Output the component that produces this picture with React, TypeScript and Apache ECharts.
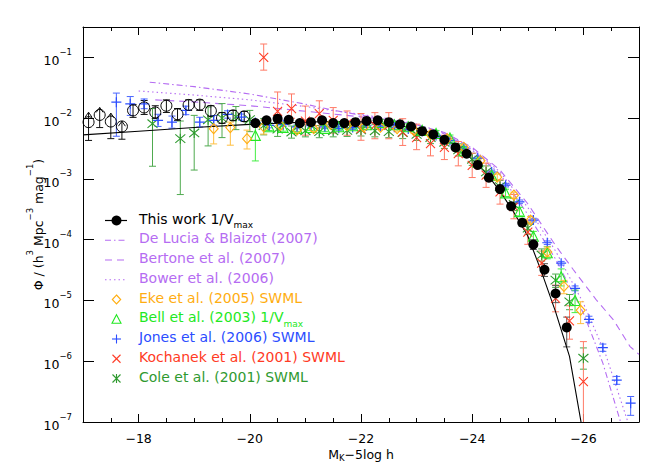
import React, { useEffect, useRef } from "react";
import * as echarts from "echarts";

const FONT = "DejaVu Sans";
const PURPLE = "#b56cf2";
const ORANGE = "#ffad10";
const GREEN = "#22e822";
const BLUE = "#2b4dff";
const RED = "#ff3a24";
const DKGREEN = "#2f9a2f";

// ---- tick labels ----
const X_MAJOR = [-26, -24, -22, -20, -18];
const X_MINOR = [-26.5, -25.5, -25, -24.5, -23.5, -23, -22.5, -21.5, -21, -20.5, -19.5, -19, -18.5, -17.5];

// ---- Schechter fit (solid black curve) ----
const FIT_M = [-17.0, -18.0, -19.0, -20.0, -21.0, -21.5, -22.0, -22.5, -23.0, -23.25, -23.5, -23.75, -24.0, -24.25, -24.5, -24.75, -25.0, -25.25, -25.5, -25.75, -26.0];
const FIT_PHI = [0.0053, 0.0061, 0.007, 0.0079, 0.0086, 0.0088, 0.0087, 0.008, 0.0068, 0.0058, 0.0046, 0.0033, 0.0021, 0.00125, 6.3e-4, 2.8e-4, 1.15e-4, 2.9e-5, 6.5e-6, 1.2e-6, 6.0e-8];

// ---- models ----
const DELUCIA_M = [-18.2, -19.0, -20.0, -21.0, -21.5, -22.0, -22.5, -23.0, -23.5, -24.0, -24.5, -25.0, -25.5, -26.0, -26.35, -26.7];
const DELUCIA_PHI = [0.039, 0.033, 0.025, 0.017, 0.0135, 0.0112, 0.0095, 0.0078, 0.0055, 0.003, 0.0012, 2.6e-4, 4.8e-5, 6.2e-6, 9.3e-7, 8.0e-8];
const BERTONE_M = [-18.3, -19.0, -20.0, -21.0, -22.0, -22.5, -23.0, -23.5, -24.0, -24.5, -25.0, -25.5, -25.82, -26.24, -26.54, -26.84, -27.0];
const BERTONE_PHI = [0.02, 0.0185, 0.016, 0.013, 0.0105, 0.0094, 0.0078, 0.0058, 0.0033, 0.0014, 3.9e-4, 8.0e-5, 3.2e-5, 1.0e-5, 4.8e-6, 1.74e-6, 1.3e-6];
const BOWER_M = [-18.0, -19.0, -20.0, -21.0, -22.0, -22.5, -23.0, -23.5, -24.0, -24.5, -25.0, -25.5, -26.0, -26.4, -26.8];
const BOWER_PHI = [0.028, 0.024, 0.02, 0.0155, 0.0115, 0.0098, 0.008, 0.0057, 0.0032, 0.0013, 3.4e-4, 6.5e-5, 9.0e-6, 1.3e-6, 1.0e-7];

// ---- This work 1/Vmax (filled) ----
const TW_M = [-20.1, -20.3, -20.5, -20.7, -20.9, -21.1, -21.3, -21.5, -21.7, -21.9, -22.1, -22.3, -22.5, -22.7, -22.9, -23.1, -23.3, -23.5, -23.7, -23.9, -24.1, -24.3, -24.5, -24.7, -24.9, -25.1, -25.3, -25.5, -25.7];
const TW_PHI = [0.0083, 0.0092, 0.0098, 0.0094, 0.0083, 0.0086, 0.0092, 0.0083, 0.0083, 0.0086, 0.009, 0.0092, 0.0086, 0.0079, 0.0073, 0.0061, 0.0054, 0.0044, 0.0033, 0.0026, 0.0017, 0.00105, 6.8e-4, 3.55e-4, 1.9e-4, 8.3e-5, 3.2e-5, 1.3e-5, 3.6e-6];
const TW_DOWN = [0.03, 0.03, 0.03, 0.03, 0.03, 0.03, 0.03, 0.03, 0.03, 0.03, 0.03, 0.03, 0.03, 0.03, 0.03, 0.03, 0.03, 0.03, 0.03, 0.03, 0.03, 0.03, 0.04, 0.05, 0.06, 0.08, 0.11, 0.15, 0.32];
const TW_UP = [0.03, 0.03, 0.03, 0.03, 0.03, 0.03, 0.03, 0.03, 0.03, 0.03, 0.03, 0.03, 0.03, 0.03, 0.03, 0.03, 0.03, 0.03, 0.03, 0.03, 0.03, 0.03, 0.04, 0.05, 0.06, 0.08, 0.1, 0.13, 0.17];

// ---- This work, faint end (open circles) ----
const TWO_M = [-17.1, -17.3, -17.5, -17.7, -17.9, -18.1, -18.3, -18.5, -18.7, -18.9, -19.1, -19.3, -19.5, -19.7, -19.9];
const TWO_PHI = [0.0086, 0.0113, 0.0088, 0.0073, 0.0134, 0.015, 0.0124, 0.016, 0.0116, 0.0165, 0.0167, 0.0132, 0.0101, 0.0111, 0.0107];
const TWO_LO = [0.0043, 0.007, 0.0046, 0.0045, 0.0103, 0.0115, 0.0099, 0.0124, 0.0092, 0.0134, 0.0134, 0.0106, 0.0082, 0.0092, 0.0088];
const TWO_HI = [0.0125, 0.015, 0.0121, 0.0089, 0.0168, 0.0195, 0.016, 0.02, 0.0144, 0.02, 0.02, 0.016, 0.0124, 0.0134, 0.0129];
const TWO_ARROW = [1, 1, 1, 1, 0, 0, 0, 0, 0, 0, 0, 0, 0, 0, 0];

// ---- Eke et al. (2005) SWML ----
const EKE_M = [-19.35, -19.65, -19.95, -20.25, -20.55, -20.85, -21.15, -21.45, -21.75, -22.05, -22.35, -22.65, -22.95, -23.25, -23.55, -23.85, -24.15, -24.45, -24.75, -25.05, -25.35, -25.65, -25.95];
const EKE_PHI = [0.0067, 0.007, 0.0046, 0.0072, 0.0076, 0.0064, 0.0067, 0.0079, 0.0075, 0.0071, 0.0071, 0.0067, 0.0062, 0.0054, 0.0046, 0.0033, 0.002, 0.00107, 5.4e-4, 2.1e-4, 6.3e-5, 1.7e-5, 6.9e-6];
const EKE_DOWN = [0.25, 0.29, 0.17, 0.12, 0.06, 0.05, 0.05, 0.04, 0.04, 0.04, 0.04, 0.04, 0.04, 0.04, 0.04, 0.04, 0.04, 0.05, 0.05, 0.06, 0.08, 0.12, 0.22];
const EKE_UP = [0.14, 0.09, 0.14, 0.11, 0.06, 0.05, 0.05, 0.04, 0.04, 0.04, 0.04, 0.04, 0.04, 0.04, 0.04, 0.04, 0.04, 0.05, 0.05, 0.06, 0.08, 0.1, 0.14];

// ---- Bell et al. (2003) 1/Vmax ----
const BELL_M = [-20.1, -20.35, -20.6, -20.85, -21.1, -21.35, -21.6, -21.85, -22.1, -22.35, -22.6, -22.85, -23.1, -23.35, -23.6, -23.85, -24.1, -24.35, -24.6, -24.85, -25.1, -25.35, -25.6, -25.85];
const BELL_PHI = [0.0052, 0.0072, 0.007, 0.0068, 0.007, 0.0068, 0.0072, 0.0075, 0.0078, 0.0085, 0.0078, 0.0072, 0.0063, 0.0056, 0.0047, 0.0029, 0.0019, 0.00115, 5.9e-4, 2.9e-4, 1.14e-4, 6.1e-5, 2.45e-5, 1.0e-5];
const BELL_DOWN = [0.42, 0.06, 0.06, 0.05, 0.05, 0.05, 0.05, 0.05, 0.05, 0.05, 0.05, 0.05, 0.05, 0.05, 0.05, 0.05, 0.05, 0.05, 0.06, 0.07, 0.08, 0.1, 0.15, 0.2];
const BELL_UP = [0.2, 0.06, 0.06, 0.05, 0.05, 0.05, 0.05, 0.05, 0.05, 0.05, 0.05, 0.05, 0.05, 0.05, 0.05, 0.05, 0.05, 0.05, 0.06, 0.07, 0.08, 0.1, 0.13, 0.17];

// ---- Jones et al. (2006) SWML ----
const JONES_M = [-17.6, -17.85, -18.1, -18.35, -18.6, -18.85, -19.1, -19.35, -19.6, -19.85, -20.1, -20.35, -20.6, -20.85, -21.1, -21.35, -21.6, -21.85, -22.1, -22.35, -22.6, -22.85, -23.1, -23.35, -23.6, -23.85, -24.1, -24.35, -24.6, -24.85, -25.1, -25.35, -25.6, -25.85, -26.1, -26.35, -26.6, -26.85];
const JONES_PHI = [0.0183, 0.0172, 0.0172, 0.0092, 0.0086, 0.0134, 0.0086, 0.0092, 0.0115, 0.0104, 0.0085, 0.0076, 0.0078, 0.0072, 0.0075, 0.0072, 0.0068, 0.007, 0.0075, 0.0074, 0.0071, 0.0066, 0.0061, 0.0052, 0.0043, 0.0032, 0.0022, 0.0013, 7.9e-4, 4.2e-4, 2.1e-4, 8.9e-5, 4.1e-5, 1.58e-5, 4.9e-6, 1.67e-6, 4.9e-7, 2.04e-7];
const JONES_DOWN = [0.56, 0.19, 0.08, 0.1, 0.1, 0.07, 0.08, 0.08, 0.06, 0.05, 0.04, 0.04, 0.03, 0.03, 0.03, 0.03, 0.03, 0.03, 0.03, 0.03, 0.03, 0.03, 0.03, 0.03, 0.03, 0.03, 0.03, 0.03, 0.03, 0.03, 0.03, 0.03, 0.03, 0.04, 0.05, 0.06, 0.07, 0.2];
const JONES_UP = [0.15, 0.12, 0.08, 0.1, 0.1, 0.07, 0.08, 0.08, 0.06, 0.05, 0.04, 0.04, 0.03, 0.03, 0.03, 0.03, 0.03, 0.03, 0.03, 0.03, 0.03, 0.03, 0.03, 0.03, 0.03, 0.03, 0.03, 0.03, 0.03, 0.03, 0.03, 0.03, 0.03, 0.04, 0.05, 0.06, 0.06, 0.11];

// ---- Kochanek et al. (2001) SWML ----
const KOCH_M = [-20.25, -20.5, -20.75, -21.0, -21.25, -21.5, -21.75, -22.0, -22.25, -22.5, -22.75, -23.0, -23.25, -23.5, -23.75, -24.0, -24.25, -24.5, -24.75, -25.0, -25.25, -25.5, -25.75, -26.0];
const KOCH_PHI = [0.1, 0.0129, 0.0144, 0.0089, 0.0119, 0.0092, 0.0081, 0.0067, 0.0076, 0.0076, 0.0059, 0.0048, 0.0038, 0.0033, 0.0026, 0.00167, 0.00115, 6.1e-4, 3.5e-4, 1.33e-4, 4.1e-5, 1.08e-5, 4.6e-6, 4.6e-7];
const KOCH_DOWN = [0.21, 0.18, 0.16, 0.23, 0.24, 0.21, 0.19, 0.19, 0.22, 0.22, 0.22, 0.2, 0.2, 0.2, 0.2, 0.2, 0.2, 0.2, 0.2, 0.2, 0.2, 0.22, 0.3, 1.0];
const KOCH_UP = [0.22, 0.32, 0.24, 0.25, 0.21, 0.21, 0.21, 0.25, 0.21, 0.21, 0.22, 0.22, 0.2, 0.2, 0.2, 0.2, 0.2, 0.2, 0.2, 0.2, 0.2, 0.22, 0.25, 0.66];

// ---- Cole et al. (2001) SWML ----
const COLE_M = [-18.25, -18.75, -19.0, -19.25, -19.5, -19.75, -20.0, -20.25, -20.5, -20.75, -21.0, -21.25, -21.5, -21.75, -22.0, -22.25, -22.5, -22.75, -23.0, -23.25, -23.5, -23.75, -24.0, -24.25, -24.5, -24.75, -25.0, -25.25, -25.5, -25.75, -26.0];
const COLE_PHI = [0.0081, 0.0046, 0.0057, 0.0094, 0.01, 0.0105, 0.0095, 0.0075, 0.0066, 0.0059, 0.0062, 0.006, 0.0062, 0.0063, 0.0064, 0.0062, 0.006, 0.0058, 0.0054, 0.0048, 0.004, 0.003, 0.0021, 0.0013, 7.5e-4, 3.8e-4, 1.55e-4, 5.6e-5, 2.16e-5, 9.5e-6, 1.12e-6];
const COLE_DOWN = [0.7, 0.92, 0.61, 0.43, 0.32, 0.21, 0.2, 0.15, 0.12, 0.1, 0.1, 0.1, 0.1, 0.1, 0.1, 0.1, 0.1, 0.1, 0.1, 0.1, 0.1, 0.1, 0.1, 0.1, 0.1, 0.1, 0.1, 0.1, 0.12, 0.13, 0.18];
const COLE_UP = [0.25, 0.29, 0.29, 0.21, 0.24, 0.17, 0.15, 0.12, 0.1, 0.1, 0.1, 0.1, 0.1, 0.1, 0.1, 0.1, 0.1, 0.1, 0.1, 0.1, 0.1, 0.1, 0.1, 0.1, 0.1, 0.1, 0.1, 0.1, 0.1, 0.12, 0.17];

// ---- legend ----
const LEGEND_TEXT = [
  "{b|This work 1/V}{s|max}",
  "{b|De Lucia & Blaizot (2007)}",
  "{b|Bertone et al. (2007)}",
  "{b|Bower et al. (2006)}",
  "{b|Eke et al. (2005) SWML}",
  "{b|Bell et al. (2003) 1/V}{s|max}",
  "{b|Jones et al. (2006) SWML}",
  "{b|Kochanek et al. (2001) SWML}",
  "{b|Cole et al. (2001) SWML}",
];
const LEGEND_COLOR = ["#000", PURPLE, PURPLE, PURPLE, ORANGE, GREEN, BLUE, RED, DKGREEN];
const LEGEND_ICON = ["lineCircle", "dashdot", "dashed", "dotted", "diamond", "triangle", "plus", "cross", "asterisk"];

const DASH_DASHDOT = [6, 3, 1.5, 3];
const DASH_DASHED = [7, 5];
const DASH_DOTTED = [1.5, 3];

const SYM_PLUS = "path://M5,0L5,10M0,5L10,5";
const SYM_CROSS = "path://M0,0L10,10M10,0L0,10";
const SYM_AST = "path://M5,0L5,10M0.8,0.8L9.2,9.2M9.2,0.8L0.8,9.2";

function pairs(xs: number[], ys: number[]) {
  return xs.map((x, i) => [x, ys[i]]);
}

function errSeries(xs: number[], lo: number[], hi: number[], color: string, arrows?: number[]) {
  const data = xs.map((x, i) => [x, lo[i], hi[i], arrows ? arrows[i] : 0]);
  return {
    type: "custom",
    data,
    encode: { x: 0, y: [1, 2] },
    clip: true,
    z: 2,
    silent: true,
    renderItem: (_p: any, api: any) => {
      const x = api.value(0);
      const a = api.coord([x, api.value(1)]);
      const b = api.coord([x, api.value(2)]);
      const w = 3.5;
      const st = { stroke: color, lineWidth: 1, fill: "none" };
      const ch: any[] = [
        { type: "line", shape: { x1: a[0], y1: a[1], x2: b[0], y2: b[1] }, style: st },
        { type: "line", shape: { x1: a[0] - w, y1: a[1], x2: a[0] + w, y2: a[1] }, style: st },
      ];
      if (api.value(3)) {
        ch.push({ type: "polyline", shape: { points: [[b[0] - 3.5, b[1] + 5], [b[0], b[1]], [b[0] + 3.5, b[1] + 5]] }, style: st });
      } else {
        ch.push({ type: "line", shape: { x1: b[0] - w, y1: b[1], x2: b[0] + w, y2: b[1] }, style: st });
      }
      return { type: "group", children: ch };
    },
  };
}

function dexLo(phi: number[], d: number[]) {
  return phi.map((p, i) => p / Math.pow(10, d[i]));
}
function dexHi(phi: number[], d: number[]) {
  return phi.map((p, i) => p * Math.pow(10, d[i]));
}

function scatter(xs: number[], ys: number[], symbol: string, size: any, fill: string, stroke: string, bw: number, z = 3) {
  return {
    type: "scatter",
    data: pairs(xs, ys),
    symbol,
    symbolSize: size,
    clip: true,
    z,
    silent: true,
    itemStyle: { color: fill, borderColor: stroke, borderWidth: bw, opacity: 1 },
  };
}

function modelLine(xs: number[], ys: number[], dash: number[]) {
  return {
    type: "line",
    data: pairs(xs, ys),
    showSymbol: false,
    symbol: "none",
    clip: true,
    z: 1,
    silent: true,
    lineStyle: { color: PURPLE, width: 1.1, type: dash },
  };
}

function legendGraphics() {
  const els: any[] = [];
  const x1 = 105, x2 = 127, cx = 116.5, tx = 139, y0 = 220.5, dy = 19.75;
  LEGEND_TEXT.forEach((t, i) => {
    const cy = y0 + dy * i;
    const c = LEGEND_COLOR[i];
    const st = { stroke: c, lineWidth: 1.1, fill: "none" };
    const kind = LEGEND_ICON[i];
    if (kind === "lineCircle") {
      els.push({ type: "line", shape: { x1, y1: cy, x2, y2: cy }, style: { stroke: c, lineWidth: 1.2 } });
      els.push({ type: "circle", shape: { cx, cy, r: 5 }, style: { fill: c } });
    } else if (kind === "dashdot" || kind === "dashed" || kind === "dotted") {
      const dash = kind === "dashdot" ? DASH_DASHDOT : kind === "dashed" ? DASH_DASHED : DASH_DOTTED;
      els.push({ type: "line", shape: { x1, y1: cy, x2, y2: cy }, style: { stroke: c, lineWidth: 1.1, lineDash: dash } });
    } else if (kind === "diamond") {
      els.push({ type: "polygon", shape: { points: [[cx, cy - 4.5], [cx + 4.2, cy], [cx, cy + 4.5], [cx - 4.2, cy]] }, style: st });
    } else if (kind === "triangle") {
      els.push({ type: "polygon", shape: { points: [[cx, cy - 4.5], [cx + 4.5, cy + 4], [cx - 4.5, cy + 4]] }, style: st });
    } else if (kind === "plus") {
      els.push({ type: "line", shape: { x1: cx - 4.5, y1: cy, x2: cx + 4.5, y2: cy }, style: st });
      els.push({ type: "line", shape: { x1: cx, y1: cy - 4.5, x2: cx, y2: cy + 4.5 }, style: st });
    } else if (kind === "cross") {
      els.push({ type: "line", shape: { x1: cx - 4, y1: cy - 4, x2: cx + 4, y2: cy + 4 }, style: st });
      els.push({ type: "line", shape: { x1: cx - 4, y1: cy + 4, x2: cx + 4, y2: cy - 4 }, style: st });
    } else if (kind === "asterisk") {
      els.push({ type: "line", shape: { x1: cx, y1: cy - 4.5, x2: cx, y2: cy + 4.5 }, style: st });
      els.push({ type: "line", shape: { x1: cx - 4, y1: cy - 4, x2: cx + 4, y2: cy + 4 }, style: st });
      els.push({ type: "line", shape: { x1: cx - 4, y1: cy + 4, x2: cx + 4, y2: cy - 4 }, style: st });
    }
    els.push({
      type: "text",
      x: tx,
      y: cy,
      style: {
        text: t,
        align: "left",
        verticalAlign: "middle",
        fill: c,
        rich: {
          b: { fontFamily: FONT, fontSize: 14, fill: c, lineHeight: 18, verticalAlign: "top" },
          s: { fontFamily: FONT, fontSize: 9, fill: c, lineHeight: 6, verticalAlign: "bottom" },
        },
      },
    });
  });
  return { type: "group", z: 100, children: els };
}

function buildOption() {
  const black = { color: "#000", width: 1 };
  const xBase = {
    type: "value",
    min: -27,
    max: -17,
    inverse: true,
    splitLine: { show: false },
    axisLine: { show: true, onZero: false, lineStyle: black },
  };
  const yBase = {
    type: "log",
    logBase: 10,
    min: 1e-7,
    max: Math.pow(10, -0.5),
    splitLine: { show: false },
    axisLine: { show: true, onZero: false, lineStyle: black },
    axisTick: { show: true, inside: true, length: 11, lineStyle: black },
  };
  const supRich = {
    b: { fontFamily: FONT, fontSize: 12.5, color: "#000", lineHeight: 20, verticalAlign: "bottom" },
    p: { fontFamily: FONT, fontSize: 8.5, color: "#000", lineHeight: 8, verticalAlign: "top" },
  };
  return {
    animation: false,
    backgroundColor: "#fff",
    grid: { left: 83, right: 25, top: 27, bottom: 53, containLabel: false },
    xAxis: [
      {
        ...xBase,
        position: "bottom",
        axisTick: { show: true, inside: true, length: 8, lineStyle: black, customValues: X_MAJOR },
        axisLabel: {
          customValues: X_MAJOR,
          margin: 9,
          color: "#000",
          fontFamily: FONT,
          fontSize: 12.5,
          lineHeight: 14,
          formatter: (v: number) => "\u2212" + Math.abs(v),
        },
        name: "{b|M}{s|K}{b|\u22125log h}",
        nameLocation: "middle",
        nameGap: 26,
        nameMoveOverlap: false,
        nameTextStyle: {
          rich: {
            b: { fontFamily: FONT, fontSize: 12.5, color: "#000", lineHeight: 14, verticalAlign: "top" },
            s: { fontFamily: FONT, fontSize: 8.5, color: "#000", lineHeight: 5, verticalAlign: "bottom" },
          },
        },
      },
      {
        ...xBase,
        position: "bottom",
        axisLine: { show: false },
        axisTick: { show: true, inside: true, length: 4, lineStyle: black, customValues: X_MINOR },
        axisLabel: { show: false, customValues: X_MINOR },
      },
      {
        ...xBase,
        position: "top",
        axisTick: { show: true, inside: true, length: 8, lineStyle: black, customValues: X_MAJOR },
        axisLabel: { show: false, customValues: X_MAJOR },
      },
      {
        ...xBase,
        position: "top",
        axisLine: { show: false },
        axisTick: { show: true, inside: true, length: 4, lineStyle: black, customValues: X_MINOR },
        axisLabel: { show: false, customValues: X_MINOR },
      },
    ],
    yAxis: [
      {
        ...yBase,
        position: "left",
        axisLabel: {
          margin: 11,
          formatter: (v: number) => {
            const l = Math.log10(v);
            const e = Math.round(l);
            if (Math.abs(l - e) > 1e-6) return "";
            return "{b|10}{p|\u2212" + Math.abs(e) + "}";
          },
          rich: supRich,
        },
        name: "{b|\u03a6 / (h}{p|3}{b| Mpc}{p|\u22123}{b| mag}{p|\u22121}{b|)}",
        nameLocation: "middle",
        nameGap: 38,
        nameMoveOverlap: false,
        nameRotate: 90,
        nameTextStyle: { rich: supRich },
      },
      {
        ...yBase,
        position: "right",
        axisLabel: { show: false },
      },
    ],
    series: [
      modelLine(DELUCIA_M, DELUCIA_PHI, DASH_DASHDOT),
      modelLine(BERTONE_M, BERTONE_PHI, DASH_DASHED),
      modelLine(BOWER_M, BOWER_PHI, DASH_DOTTED),
      {
        type: "line",
        data: pairs(FIT_M, FIT_PHI),
        showSymbol: false,
        symbol: "none",
        clip: true,
        z: 2,
        silent: true,
        lineStyle: { color: "#000", width: 1.1 },
      },
      errSeries(COLE_M, dexLo(COLE_PHI, COLE_DOWN), dexHi(COLE_PHI, COLE_UP), "#4faa4f"),
      errSeries(KOCH_M, dexLo(KOCH_PHI, KOCH_DOWN), dexHi(KOCH_PHI, KOCH_UP), "#ff7a66"),
      errSeries(JONES_M, dexLo(JONES_PHI, JONES_DOWN), dexHi(JONES_PHI, JONES_UP), "#4a66ff"),
      errSeries(BELL_M, dexLo(BELL_PHI, BELL_DOWN), dexHi(BELL_PHI, BELL_UP), "#44ee44"),
      errSeries(EKE_M, dexLo(EKE_PHI, EKE_DOWN), dexHi(EKE_PHI, EKE_UP), "#ffbf40"),
      errSeries(TWO_M, TWO_LO, TWO_HI, "#111", TWO_ARROW),
      errSeries(TW_M, dexLo(TW_PHI, TW_DOWN), dexHi(TW_PHI, TW_UP), "#555"),
      scatter(COLE_M, COLE_PHI, SYM_AST, 10, "none", DKGREEN, 1.1),
      scatter(KOCH_M, KOCH_PHI, SYM_CROSS, 9, "none", RED, 1.1),
      scatter(JONES_M, JONES_PHI, SYM_PLUS, 10, "none", BLUE, 1.2),
      scatter(BELL_M, BELL_PHI, "triangle", 10, "rgba(0,0,0,0)", GREEN, 1.1),
      scatter(EKE_M, EKE_PHI, "diamond", [9, 10], "rgba(0,0,0,0)", ORANGE, 1.1),
      scatter(TWO_M, TWO_PHI, "circle", 11, "rgba(0,0,0,0)", "#000", 1),
      scatter(TW_M, TW_PHI, "circle", 10, "#000", "#000", 0, 5),
    ],
    graphic: [legendGraphics()],
  };
}

export default function App() {
  const ref = useRef<HTMLDivElement>(null);
  useEffect(() => {
    document.body.style.margin = "0";
    const chart = echarts.init(ref.current as HTMLDivElement, null, { renderer: "svg" });
    chart.setOption(buildOption() as any);
    return () => chart.dispose();
  }, []);
  return <div ref={ref} style={{ width: 664, height: 475 }} />;
}
